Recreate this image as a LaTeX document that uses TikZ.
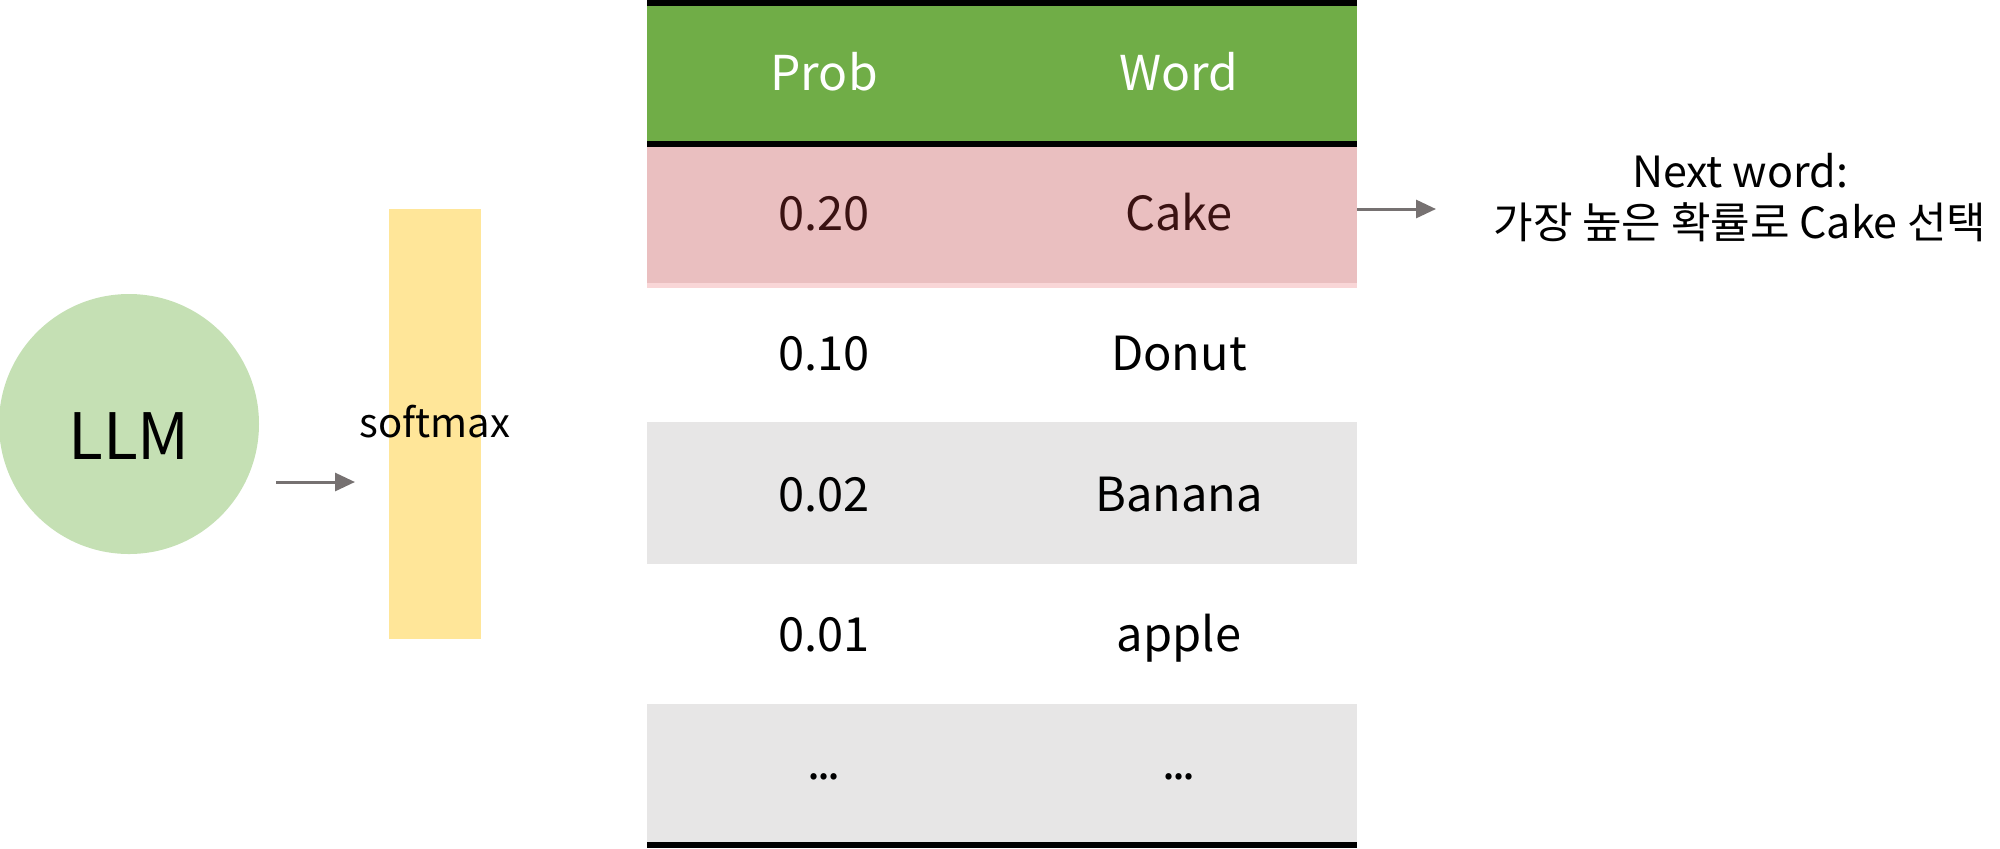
\documentclass[tikz,border=0pt]{standalone}
\usepackage{fontspec}
\setmainfont{Noto Sans CJK KR}
\usetikzlibrary{arrows.meta}
\definecolor{hdrgreen}{HTML}{70AD47}
\definecolor{pinkrow}{HTML}{EABFC0}
\definecolor{pinklight}{HTML}{F9D6D7}
\definecolor{grayrow}{HTML}{E7E6E6}
\definecolor{baryellow}{HTML}{FFE699}
\definecolor{llmgreen}{HTML}{C5E0B4}
\definecolor{arrgray}{HTML}{767171}
\definecolor{caketext}{HTML}{3A1212}
\tikzset{
  rowbox/.style={rectangle, draw=none, inner sep=0pt, outer sep=0pt, minimum width=355pt},
  cell/.style={inner sep=0pt, text height=0.72em, text depth=0pt, font=\fontsize{23.5}{28}\selectfont},
  hcell/.style={cell, text=white, font=\fontsize{24}{28}\selectfont},
  rule/.style={line width=3pt, black},
  arr/.style={arrgray, line width=1.5pt, -{Triangle[length=10pt,width=9pt]}},
}
\begin{document}
\begin{tikzpicture}[x=0.5pt,y=-0.5pt]
\useasboundingbox (0,0) rectangle (2000,848);
% LLM circle
\node[circle, fill=llmgreen, draw=none, minimum size=130pt, inner sep=0pt] (llm) at (129,424) {};
\node[inner sep=0pt, font=\fontsize{32}{36}\selectfont] (llmtext) at (129,436) {LLM};
% softmax bar
\node[rectangle, fill=baryellow, draw=none, minimum width=46pt, minimum height=215pt,
      inner sep=0pt] (bar) at (435,424) {};
\node[inner sep=0pt, font=\fontsize{20}{24}\selectfont] (smax) at (435,422) {softmax};
\coordinate (a1) at (276,482);
\coordinate (a2) at (355,482);
\draw[arr] (a1) -- (a2);
% table rows
\node[rowbox, fill=hdrgreen, minimum height=73.5pt] (hdr) at (1002,73.5) {};
\node[rowbox, fill=pinkrow, minimum height=68pt] (cake) at (1002,215) {};
\fill[pinklight] (cake.south west) rectangle ++(710,5);
\node[rowbox, minimum height=67pt] (donut) at (1002,355) {};
\node[rowbox, fill=grayrow, minimum height=71pt] (banana) at (1002,493) {};
\node[rowbox, minimum height=70pt] (apple) at (1002,634) {};
\node[rowbox, fill=grayrow, minimum height=72pt] (dots) at (1002,776) {};
\draw[rule] ([yshift=-1.5pt]hdr.north west) -- ([yshift=-1.5pt]hdr.north east);
\draw[rule] ([yshift=1.5pt]hdr.south west) -- ([yshift=1.5pt]hdr.south east);
\draw[rule] ([yshift=1.5pt]dots.south west) -- ([yshift=1.5pt]dots.south east);
% texts
\node[hcell] (hp) at (824,83) {Prob};
\node[hcell] (hw) at (1179,83) {Word};
\node[cell, text=caketext] (p1) at (824,223) {0.20};
\node[cell, text=caketext] (w1) at (1179,223) {Cake};
\node[cell] (p2) at (824,363) {0.10};
\node[cell] (w2) at (1179,363) {Donut};
\node[cell] (p3) at (824,504) {0.02};
\node[cell] (w3) at (1179,504) {Banana};
\node[cell] (p4) at (824,644) {0.01};
\node[cell] (w4) at (1179,644) {apple};
\node[inner sep=0pt, font=\fontsize{23.5}{28}\selectfont] (p5) at (824,777) {.\kern-1.5pt.\kern-1.5pt.};
\node[inner sep=0pt, font=\fontsize{23.5}{28}\selectfont] (w5) at (1179,777) {.\kern-1.5pt.\kern-1.5pt.};
% next word
\node[inner sep=0pt, align=center, font=\fontsize{21.5}{25.5}\selectfont] (next) at (1740,198)
  {Next word:\\가장 높은 확률로 Cake 선택};
\draw[arr] ([yshift=3pt]cake.east) -- ++(79,0);
\end{tikzpicture}
\end{document}
